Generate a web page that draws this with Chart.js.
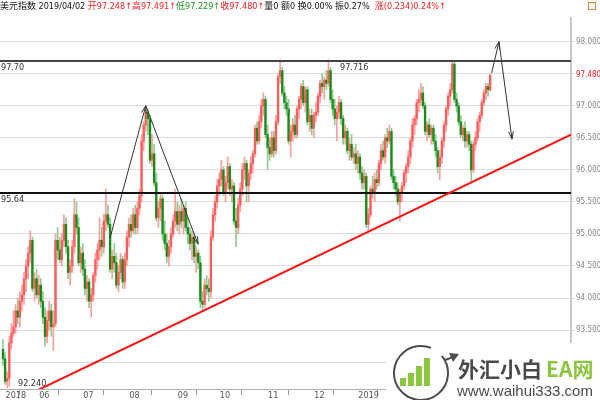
<!DOCTYPE html>
<html>
<head>
<meta charset="utf-8">
<script src="https://cdn.jsdelivr.net/npm/chart.js@4.4.1/dist/chart.umd.min.js"></script>
<style>
  html, body { margin: 0; padding: 0; background: #fff; }
  #wrap { width: 600px; height: 400px; position: relative; }
</style>
</head>
<body>
<div id="wrap"><canvas id="chart"></canvas></div>
<script>
// Daily candles, index 0 = first visible day (May 2018) ... 232 = 2019/04/02
const opens = [
  93.20,93.05,92.70,92.75,93.30,93.45,93.55,93.80,93.70,93.95,
  94.05,94.30,94.50,94.70,94.90,94.15,94.30,94.05,94.20,93.95,
  93.70,93.40,93.65,93.80,93.55,93.60,94.90,94.75,94.60,94.90,
  95.15,94.80,94.40,94.50,94.80,95.30,95.10,94.55,94.70,94.45,
  94.15,94.25,93.95,94.05,94.35,94.60,94.75,94.90,94.80,95.20,
  95.30,95.15,94.45,94.65,94.55,94.20,94.40,94.60,94.25,94.60,
  94.95,95.15,95.05,95.30,95.10,95.40,95.60,96.45,96.70,96.90,
  96.80,96.15,96.25,95.80,95.25,95.40,95.55,95.00,94.85,94.65,
  94.80,95.00,95.20,95.35,95.15,95.35,95.20,95.40,95.10,95.00,
  94.85,94.95,94.65,94.70,94.55,93.95,93.90,94.20,94.15,94.10,
  94.95,95.30,95.50,95.75,95.85,96.00,95.65,95.80,96.05,95.70,
  95.75,95.20,95.10,95.45,95.70,96.00,96.10,95.75,95.95,96.10,
  96.25,96.65,96.45,96.75,97.00,97.10,96.55,96.35,96.25,96.50,
  96.30,96.75,97.45,97.55,97.20,97.05,96.95,96.45,96.60,96.70,
  96.55,96.95,97.10,97.30,97.05,97.25,96.75,96.85,96.65,96.85,
  96.90,97.15,97.35,97.30,97.40,97.35,97.55,97.10,96.95,96.80,
  96.90,97.05,96.80,96.50,96.60,96.30,96.40,96.20,96.25,96.10,
  96.20,95.95,95.80,95.90,95.15,95.30,95.70,95.65,95.85,95.80,
  96.10,96.30,96.20,96.50,96.45,96.60,95.90,95.80,95.70,95.50,
  95.65,95.75,95.95,96.05,96.20,96.45,96.70,96.80,97.05,97.10,
  97.20,97.00,96.60,96.70,96.55,96.65,96.45,96.30,96.05,96.20,
  96.45,96.70,96.95,97.15,97.25,97.65,97.10,97.00,96.75,96.55,
  96.65,96.45,96.55,96.40,96.00,96.40,96.50,96.75,96.85,97.05,
  97.20,97.30,97.248
];
const highs = [
  93.35,93.15,92.85,93.40,93.60,93.80,93.90,94.00,94.10,94.20,
  94.40,94.60,94.80,95.05,94.95,94.40,94.45,94.35,94.30,94.10,
  93.85,93.80,93.95,93.90,93.80,95.00,95.10,94.95,95.00,95.30,
  95.25,94.90,94.60,94.90,95.55,95.50,95.25,94.80,94.85,94.60,
  94.35,94.30,94.15,94.40,94.70,94.85,95.25,95.10,95.30,95.70,
  95.45,95.25,94.75,94.85,94.70,94.50,94.70,94.65,94.70,95.05,
  95.25,95.30,95.40,95.45,95.50,95.70,96.55,96.75,97.00,96.95,
  96.85,96.55,96.40,95.95,95.50,95.65,95.60,95.20,95.00,94.90,
  95.10,95.30,95.70,95.50,95.45,95.55,95.45,95.50,95.25,95.10,
  95.05,95.00,94.80,94.75,94.65,94.10,94.30,94.35,94.30,95.05,
  95.40,95.60,95.85,95.95,96.15,96.05,95.90,96.20,96.10,95.85,
  95.80,95.40,95.55,95.80,96.10,96.20,96.15,96.00,96.20,96.30,
  96.70,96.75,96.85,97.10,97.20,97.15,96.70,96.50,96.60,96.60,
  96.85,97.50,97.72,97.60,97.30,97.15,97.10,96.70,96.80,96.85,
  97.00,97.15,97.35,97.40,97.30,97.30,96.95,96.95,96.90,97.05,
  97.20,97.40,97.50,97.45,97.55,97.72,97.60,97.25,97.10,97.00,
  97.15,97.10,96.85,96.70,96.65,96.50,96.55,96.35,96.40,96.30,
  96.25,96.05,96.00,95.95,95.40,95.75,95.90,95.95,96.00,96.15,
  96.40,96.45,96.55,96.65,96.70,96.65,96.00,95.90,95.80,95.70,
  95.80,96.00,96.10,96.30,96.50,96.80,96.85,97.10,97.25,97.35,
  97.30,97.05,96.75,96.80,96.70,96.70,96.55,96.35,96.30,96.50,
  96.75,97.00,97.20,97.35,97.72,97.70,97.20,97.05,96.85,96.70,
  96.75,96.60,96.60,96.45,96.45,96.60,96.80,96.90,97.10,97.25,
  97.35,97.35,97.491
];
const lows = [
  92.95,92.65,92.60,92.62,93.20,93.40,93.45,93.60,93.55,93.80,
  93.90,94.10,94.30,94.55,94.10,93.95,94.00,93.90,93.85,93.60,
  93.25,93.30,93.50,93.40,93.18,93.55,94.60,94.55,94.50,94.80,
  94.70,94.30,94.20,94.40,94.70,95.00,94.50,94.40,94.35,94.05,
  93.95,93.85,93.70,93.95,94.25,94.45,94.60,94.65,94.70,95.05,
  95.10,94.40,94.30,94.40,94.15,94.10,94.30,94.15,94.15,94.50,
  94.80,94.95,95.00,95.00,95.00,95.30,95.50,96.30,96.60,96.55,
  96.10,96.05,95.75,95.20,95.10,95.20,94.90,94.75,94.55,94.50,
  94.70,94.95,95.10,95.05,95.00,95.10,95.00,95.05,94.85,94.75,
  94.60,94.55,94.40,94.45,93.85,93.80,93.85,94.05,93.95,94.00,
  94.90,95.20,95.40,95.60,95.75,95.60,95.50,95.70,95.60,95.50,
  95.15,94.80,95.00,95.35,95.60,95.85,95.50,95.50,95.85,95.95,
  96.20,96.40,96.40,96.65,96.85,96.50,96.00,96.15,96.20,96.20,
  96.25,96.70,97.35,97.15,96.95,96.85,96.40,96.20,96.45,96.50,
  96.50,96.80,96.95,97.00,96.90,96.70,96.60,96.55,96.50,96.75,
  96.85,97.05,97.20,97.10,97.25,97.30,97.05,96.85,96.70,96.45,
  96.80,96.70,96.40,96.40,96.25,96.15,96.15,96.10,96.00,95.95,
  95.85,95.70,95.70,95.10,95.05,95.25,95.55,95.50,95.70,95.75,
  96.00,96.15,96.10,96.35,96.40,95.85,95.70,95.60,95.45,95.20,
  95.50,95.70,95.80,95.95,96.10,96.35,96.55,96.70,96.90,97.00,
  96.95,96.55,96.45,96.50,96.40,96.40,96.20,95.95,95.85,96.10,
  96.35,96.60,96.85,97.00,97.20,97.05,96.90,96.70,96.50,96.45,
  96.35,96.35,96.30,95.80,95.95,96.30,96.45,96.60,96.80,97.00,
  97.10,97.15,97.229
];
const closes = [
  93.05,92.70,92.75,93.30,93.45,93.55,93.80,93.70,93.95,94.05,
  94.30,94.50,94.70,94.90,94.15,94.30,94.05,94.20,93.95,93.70,
  93.40,93.65,93.80,93.55,93.60,94.90,94.75,94.60,94.90,95.15,
  94.80,94.40,94.50,94.80,95.30,95.10,94.55,94.70,94.45,94.15,
  94.25,93.95,94.05,94.35,94.60,94.75,94.90,94.80,95.20,95.30,
  95.15,94.45,94.65,94.55,94.20,94.40,94.60,94.25,94.60,94.95,
  95.15,95.05,95.30,95.10,95.40,95.60,96.45,96.70,96.90,96.80,
  96.15,96.25,95.80,95.25,95.40,95.55,95.00,94.85,94.65,94.80,
  95.00,95.20,95.35,95.15,95.35,95.20,95.40,95.10,95.00,94.85,
  94.95,94.65,94.70,94.55,93.95,93.90,94.20,94.15,94.10,94.95,
  95.30,95.50,95.75,95.85,96.00,95.65,95.80,96.05,95.70,95.75,
  95.20,95.10,95.45,95.70,96.00,96.10,95.75,95.95,96.10,96.25,
  96.65,96.45,96.75,97.00,97.10,96.55,96.35,96.25,96.50,96.30,
  96.75,97.45,97.55,97.20,97.05,96.95,96.45,96.60,96.70,96.55,
  96.95,97.10,97.30,97.05,97.25,96.75,96.85,96.65,96.85,96.90,
  97.15,97.35,97.30,97.40,97.35,97.55,97.10,96.95,96.80,96.90,
  97.05,96.80,96.50,96.60,96.30,96.40,96.20,96.25,96.10,96.20,
  95.95,95.80,95.90,95.15,95.30,95.70,95.65,95.85,95.80,96.10,
  96.30,96.20,96.50,96.45,96.60,95.90,95.80,95.70,95.50,95.65,
  95.75,95.95,96.05,96.20,96.45,96.70,96.80,97.05,97.10,97.20,
  97.00,96.60,96.70,96.55,96.65,96.45,96.30,96.05,96.20,96.45,
  96.70,96.95,97.15,97.25,97.65,97.10,97.00,96.75,96.55,96.65,
  96.45,96.55,96.40,96.00,96.40,96.50,96.75,96.85,97.05,97.20,
  97.30,97.25,97.480
];

// x axis: first trading day of each month (candle index) and its label
const monthTicks = [0, 16, 37, 59, 82, 102, 125, 147, 168];
const monthLabels = ['2018', '06', '07', '08', '09', '10', '11', '12', '2019'];
const priceTicks = [93.0, 93.5, 94.0, 94.5, 95.0, 95.5, 96.0, 96.5, 97.0, 97.5, 98.0];

// drawn studies
const resistance = 97.70;
const support = 95.64;
const peakHigh = 97.716;
const lastPrice = 97.480;
const trendX = [-4, 270.5];
const trendY = [92.24, 96.55];
const leftArrowX = [51, 68, 92.9];
const leftArrowY = [94.94, 97.0, 94.84];
const rightArrowX = [232.7, 236.2, 242.4];
const rightArrowY = [97.51, 98.0, 96.48];

const X_MIN = -1.43, X_MAX = 270.5;
const Y_MIN = 92.58, Y_MAX = 98.37;

const UP_BODY = '#ff5c5c', UP_WICK = '#ff9e9e';
const DN_BODY = '#178c17', DN_WICK = '#8fca8f';
const RED = '#ff2020', GREEN = '#1a9a1a';
const NARROW = "'Liberation Sans Narrow', 'DejaVu Sans Condensed', 'Liberation Sans', sans-serif";
const CJK = "'Noto Sans CJK SC', sans-serif";

const idx = opens.map((_, i) => i);
const isUp = i => closes[i] >= opens[i];

const pts = (xs, ys) => xs.map((x, i) => ({ x, y: ys[i] }));

function lineSet(data, color, width) {
  return {
    type: 'line', data, borderColor: color, borderWidth: width,
    pointRadius: 0, fill: false, tension: 0, order: 0
  };
}

/**
 * Arrow heads for the hand drawn forecast lines
 */
function arrowHead(ctx, x0, y0, x1, y1) {
  const a = Math.atan2(y1 - y0, x1 - x0);
  const len = 8, spread = 0.3;
  ctx.beginPath();
  ctx.moveTo(x1 - len * Math.cos(a - spread), y1 - len * Math.sin(a - spread));
  ctx.lineTo(x1, y1);
  ctx.lineTo(x1 - len * Math.cos(a + spread), y1 - len * Math.sin(a + spread));
  ctx.stroke();
}

const overlay = {
  id: 'overlay',
  afterDatasetsDraw(chart) {
    const { ctx, scales: { x, y } } = chart;
    ctx.save();
    ctx.strokeStyle = '#333';
    ctx.lineWidth = 1;
    [[leftArrowX, leftArrowY], [rightArrowX, rightArrowY]].forEach(([xs, ys]) => {
      const p = xs.map((v, i) => [x.getPixelForValue(v), y.getPixelForValue(ys[i])]);
      arrowHead(ctx, p[0][0], p[0][1], p[1][0], p[1][1]);
      arrowHead(ctx, p[1][0], p[1][1], p[2][0], p[2][1]);
    });

    // level labels
    ctx.font = '9px ' + NARROW;
    ctx.textBaseline = 'top';
    ctx.textAlign = 'left';
    ctx.fillStyle = '#333';
    ctx.fillText(resistance.toFixed(2), 1, y.getPixelForValue(resistance) + 2);
    ctx.fillText(support.toFixed(2), 1, y.getPixelForValue(support) + 2);
    ctx.fillText(peakHigh.toFixed(3), x.getPixelForValue(160.5), y.getPixelForValue(resistance) + 2);
    ctx.fillText(trendY[0].toFixed(3), 18, 379);
    ctx.restore();
  },
  afterDraw(chart) {
    const { ctx, scales: { y } } = chart;
    ctx.save();
    // last price tag on the price axis
    ctx.font = '8px ' + NARROW;
    ctx.textBaseline = 'middle';
    ctx.textAlign = 'left';
    ctx.fillStyle = RED;
    ctx.fillText(lastPrice.toFixed(3), chart.chartArea.right + 5, y.getPixelForValue(lastPrice));

    // header line
    const parts = [
      ['美元指数 2019/04/02 ', '#111'],
      ['开97.248↑', RED], ['高97.491↑', RED], ['低97.229↑', GREEN], ['收97.480↑', RED],
      ['量0 额0 换0.00% 振0.27%  ', '#111'],
      ['涨(0.234)0.24%↑', RED]
    ];
    ctx.font = '9px ' + NARROW + ', ' + CJK;
    ctx.textBaseline = 'top';
    let cx = 0;
    parts.forEach(([t, c]) => {
      ctx.fillStyle = c;
      ctx.fillText(t, cx, 2);
      cx += ctx.measureText(t).width;
    });
    ctx.strokeStyle = '#f08040';
    ctx.lineWidth = 1;
    ctx.strokeRect(588.5, 2.5, 7, 7);

    drawLogo(ctx);
    ctx.restore();
  }
};

function drawLogo(ctx) {
  ctx.save();
  ctx.fillStyle = '#fff';
  ctx.fillRect(386, 343, 214, 57);
  // ring with arrow
  ctx.strokeStyle = '#4d4d4d';
  ctx.lineWidth = 2;
  ctx.beginPath();
  ctx.arc(421, 373, 27, -0.22 * Math.PI, 1.62 * Math.PI);
  ctx.stroke();
  ctx.beginPath();
  ctx.moveTo(445, 360);
  ctx.lineTo(456, 356);
  ctx.stroke();
  ctx.fillStyle = '#4d4d4d';
  ctx.beginPath();
  ctx.moveTo(459, 354);
  ctx.lineTo(449, 353);
  ctx.lineTo(453, 362);
  ctx.closePath();
  ctx.fill();
  // bars
  ctx.fillStyle = '#8cc63f';
  [[400, 8], [408, 13], [416, 20], [424, 28]].forEach(([bx, bh]) => {
    ctx.fillRect(bx, 386 - bh, 6, bh);
  });
  // name
  ctx.textBaseline = 'alphabetic';
  ctx.textAlign = 'left';
  ctx.font = "bold 21px 'Noto Sans CJK SC', sans-serif";
  ctx.fillStyle = '#4a4a4a';
  ctx.fillText('外汇小白', 458, 377);
  ctx.fillStyle = '#8cc63f';
  ctx.fillText('EA网', 546, 377);
  ctx.font = "15px 'Liberation Sans', Arial, sans-serif";
  ctx.fillStyle = '#4a4a4a';
  ctx.fillText('www.waihui333.com', 457, 396);
  ctx.restore();
}

const chart = new Chart(document.getElementById('chart'), {
  type: 'bar',
  data: {
    datasets: [
      lineSet(pts(trendX, trendY), '#ff1010', 2),
      lineSet(pts([X_MIN, X_MAX], [resistance, resistance]), '#444', 2),
      lineSet(pts([X_MIN, X_MAX], [support, support]), '#111', 2),
      lineSet(pts(leftArrowX, leftArrowY), '#333', 1),
      lineSet(pts(rightArrowX, rightArrowY), '#333', 1),
      {
        label: 'body',
        data: idx.map(i => ({ x: i, y: [opens[i], closes[i]] })),
        backgroundColor: c => isUp(c.dataIndex) ? UP_BODY : DN_BODY,
        barThickness: 1.7,
        minBarLength: 1,
        grouped: false,
        order: 1
      },
      {
        label: 'wick',
        data: idx.map(i => ({ x: i, y: [lows[i], highs[i]] })),
        backgroundColor: c => isUp(c.dataIndex) ? UP_WICK : DN_WICK,
        barThickness: 1,
        grouped: false,
        order: 2
      }
    ]
  },
  options: {
    responsive: true,
    maintainAspectRatio: false,
    animation: false,
    layout: { padding: { top: 18, left: 0, right: 0, bottom: 0 } },
    plugins: { legend: { display: false }, tooltip: { enabled: false } },
    scales: {
      x: {
        type: 'linear',
        min: X_MIN,
        max: X_MAX,
        offset: false,
        afterBuildTicks: s => { s.ticks = monthTicks.map(v => ({ value: v })); },
        afterFit: s => { s.height = 11; },
        ticks: {
          autoSkip: false,
          maxRotation: 0,
          align: 'start',
          padding: -5,
          color: '#555',
          font: { size: 9, family: NARROW },
          callback: v => {
            const k = monthTicks.indexOf(v);
            return k >= 0 ? ' ' + monthLabels[k] : '';
          }
        },
        grid: { drawOnChartArea: false, tickLength: 6, color: '#999' },
        border: { color: '#b0b0b0', width: 1 }
      },
      y: {
        position: 'right',
        min: Y_MIN,
        max: Y_MAX,
        afterBuildTicks: s => { s.ticks = priceTicks.map(v => ({ value: v })); },
        afterFit: s => { s.width = 29; },
        ticks: {
          color: '#888',
          padding: 1,
          font: { size: 8, family: NARROW },
          callback: v => (v === 97.5 ? '' : v.toFixed(3))
        },
        grid: { color: '#dcdcdc', tickLength: 4 },
        border: { color: '#c8c8c8', width: 2 }
      }
    }
  },
  plugins: [overlay]
});
</script>
</body>
</html>
